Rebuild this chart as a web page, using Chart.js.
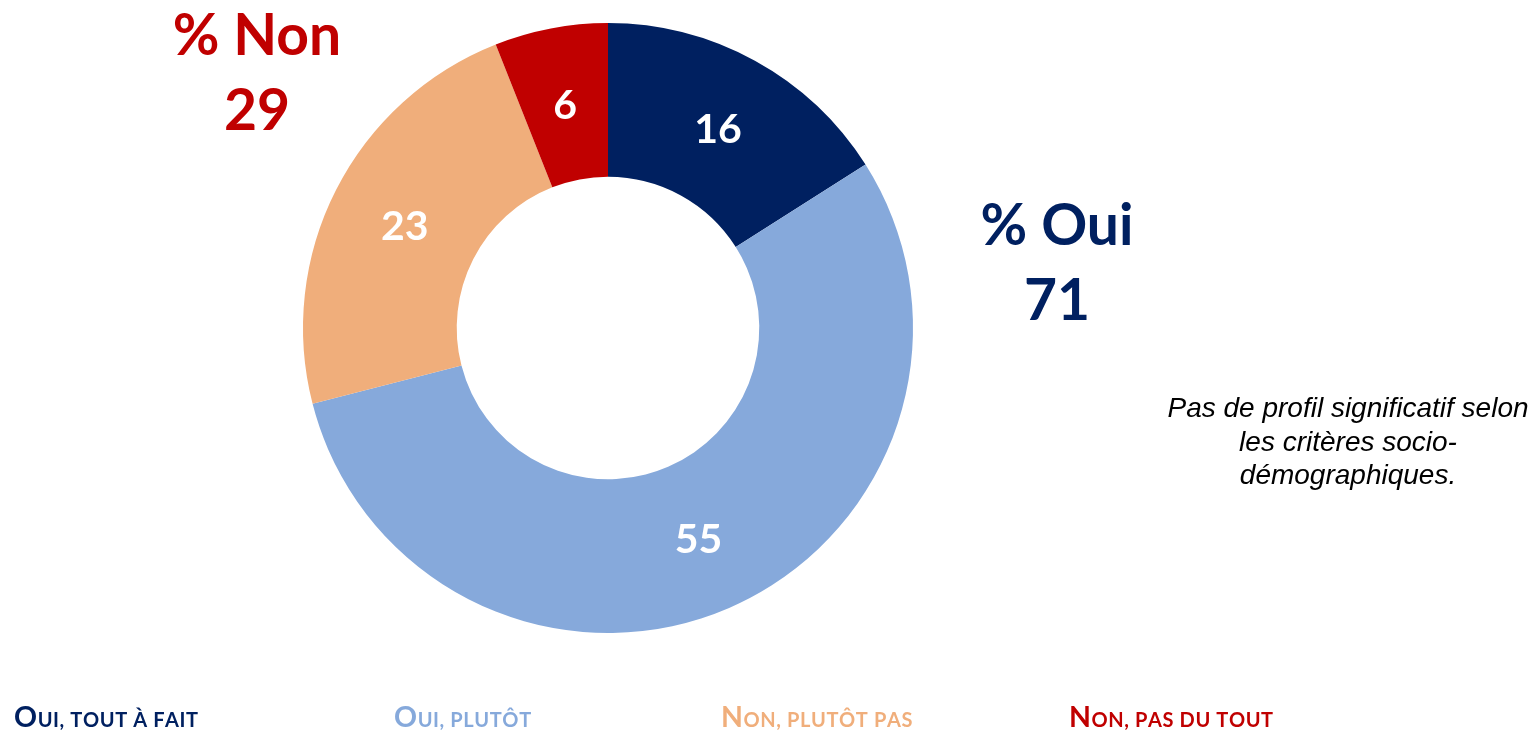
<!DOCTYPE html>
<html>
<head>
<meta charset="utf-8">
<script src="https://cdn.jsdelivr.net/npm/chart.js@4"></script>
<style>
  html, body { margin: 0; padding: 0; background: #fff; }
  #wrap { position: relative; width: 1538px; height: 735px; }
  canvas { display: block; }
</style>
</head>
<body>
<div id="wrap"><canvas id="c" width="1538" height="735"></canvas></div>
<script>
const categories = ["Oui, tout à fait", "Oui, plutôt", "Non, plutôt pas", "Non, pas du tout"];
const values = [16, 55, 23, 6];
const colors = ["#002060", "#86A9DB", "#F0AE7B", "#C00000"];
const totalOuiLabel = ["% Oui", "71"];
const totalNonLabel = ["% Non", "29"];
const noteLines = ["Pas de profil significatif selon", "les critères socio-", "démographiques."];

const FONT = "Lato, 'Noto Sans', sans-serif";

const sliceLabels = {
  id: 'sliceLabels',
  afterDatasetsDraw(chart) {
    const ctx = chart.ctx;
    const meta = chart.getDatasetMeta(0);
    ctx.save();
    ctx.fillStyle = '#fff';
    ctx.font = 'bold 41px ' + FONT;
    ctx.textAlign = 'center';
    ctx.textBaseline = 'middle';
    meta.data.forEach((arc, i) => {
      const p = arc.tooltipPosition();
      ctx.fillText(String(chart.data.datasets[0].data[i]), p.x, p.y + 2);
    });
    ctx.restore();
  }
};

function drawSmallCaps(ctx, text, x, y, big, small, color) {
  ctx.fillStyle = color;
  let cx = x;
  for (const ch of text) {
    const isUpper = ch === ch.toUpperCase() && ch !== ch.toLowerCase();
    const size = isUpper ? big : small;
    ctx.font = 'bold ' + size + 'px ' + FONT;
    const t = ch.toUpperCase();
    ctx.fillText(t, cx, y);
    cx += ctx.measureText(t).width + 0.6;
  }
}

const annotations = {
  id: 'annotations',
  afterDraw(chart) {
    const ctx = chart.ctx;
    ctx.save();
    ctx.textBaseline = 'alphabetic';
    ctx.textAlign = 'center';
    ctx.font = 'bold 57px ' + FONT;
    ctx.fillStyle = colors[3];
    ctx.fillText(totalNonLabel[0], 257, 55);
    ctx.fillText(totalNonLabel[1], 257, 130);
    ctx.fillStyle = colors[0];
    ctx.fillText(totalOuiLabel[0], 1057, 245);
    ctx.fillText(totalOuiLabel[1], 1057, 320);

    ctx.font = 'italic 28px "Liberation Sans", Arial, sans-serif';
    ctx.fillStyle = '#000';
    noteLines.forEach((l, i) => ctx.fillText(l, 1348, 417 + i * 33.5));

    ctx.textAlign = 'left';
    const legendX = [14, 394, 721, 1069];
    categories.forEach((c, i) => drawSmallCaps(ctx, c, legendX[i], 727, 28.5, 20, colors[i]));
    ctx.restore();
  }
};

new Chart(document.getElementById('c'), {
  type: 'doughnut',
  data: {
    labels: categories,
    datasets: [{
      data: values,
      backgroundColor: colors,
      borderWidth: 0,
      hoverOffset: 0,
      offset: 0
    }]
  },
  options: {
    responsive: false,
    animation: false,
    cutout: '49.6%',
    layout: { padding: { left: 303, right: 625, top: 23, bottom: 102 } },
    plugins: {
      legend: { display: false },
      tooltip: { enabled: false }
    }
  },
  plugins: [sliceLabels, annotations]
});
</script>
</body>
</html>
